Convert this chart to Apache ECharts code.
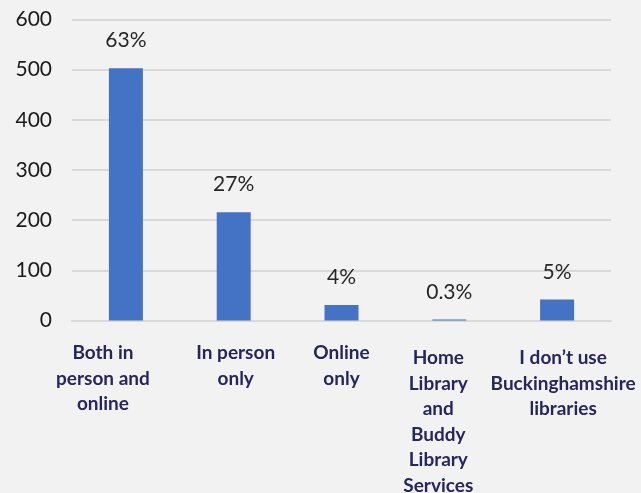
<!DOCTYPE html>
<html>
<head>
<meta charset="utf-8">
<script src="https://cdn.jsdelivr.net/npm/echarts@6/dist/echarts.min.js"></script>
<style>
  html, body { margin: 0; padding: 0; background: #f2f2f2; }
  #chart { width: 641px; height: 493px; }
</style>
</head>
<body>
<div id="chart"></div>
<script>
var categories = ['Both in\nperson and\nonline', 'In person\nonly', 'Online\nonly', 'Home\nLibrary\nand\nBuddy\nLibrary\nServices', 'I don\u2019t use\nBuckinghamshire\nlibraries'];
var counts = [503, 216, 31, 2, 42];
var percentLabels = ['63%', '27%', '4%', '0.3%', '5%'];
var yTicks = [0, 100, 200, 300, 400, 500, 600];

// nudges for the category labels (px): the source text boxes are not centred on the bars
var labelShift = [-23, 2, 0, -11, 6];
var labelDrop = [0, 0, 0, 5, 5];

var chart = echarts.init(document.getElementById('chart'));

var rich = { sp: { fontSize: 1, lineHeight: 5 } };
labelShift.forEach(function (s, i) {
    rich['c' + i] = {
        color: '#26265e',
        fontWeight: 'bold',
        fontSize: 19,
        lineHeight: 25.5,
        fontFamily: 'Lato',
        padding: s < 0 ? [0, -2 * s, 0, 0] : [0, 0, 0, 2 * s]
    };
});

var option = {
    backgroundColor: '#f2f2f2',
    textStyle: { fontFamily: 'Lato' },
    grid: { left: 72, right: 30, top: 19.5, bottom: 172.5, outerBoundsMode: 'none', containLabel: false },
    xAxis: {
        type: 'category',
        data: categories,
        axisLine: { show: true, lineStyle: { color: '#d9d9d9', width: 2 } },
        axisTick: { show: false },
        axisLabel: {
            interval: 0,
            margin: 20,
            color: '#26265e',
            fontWeight: 'bold',
            fontSize: 19,
            lineHeight: 25.5,
            formatter: function (value, index) {
                var s = '{c' + index + '|' + value + '}';
                return labelDrop[index] ? '{sp| }\n' + s : s;
            },
            rich: rich
        }
    },
    yAxis: {
        type: 'value',
        min: yTicks[0],
        max: yTicks[yTicks.length - 1],
        interval: 100,
        axisLine: { show: false },
        axisTick: { show: false },
        splitLine: { lineStyle: { color: '#d9d9d9', width: 2 } },
        axisLabel: { margin: 20, color: '#1a1a1a', fontSize: 21 }
    },
    series: [
        {
            type: 'bar',
            data: counts,
            barWidth: 34,
            itemStyle: { color: '#4472c4' },
            label: {
                show: true,
                position: 'top',
                distance: 17,
                color: '#262626',
                fontSize: 21,
                formatter: function (p) { return percentLabels[p.dataIndex]; }
            }
        }
    ]
};

chart.setOption(option);
</script>
</body>
</html>
